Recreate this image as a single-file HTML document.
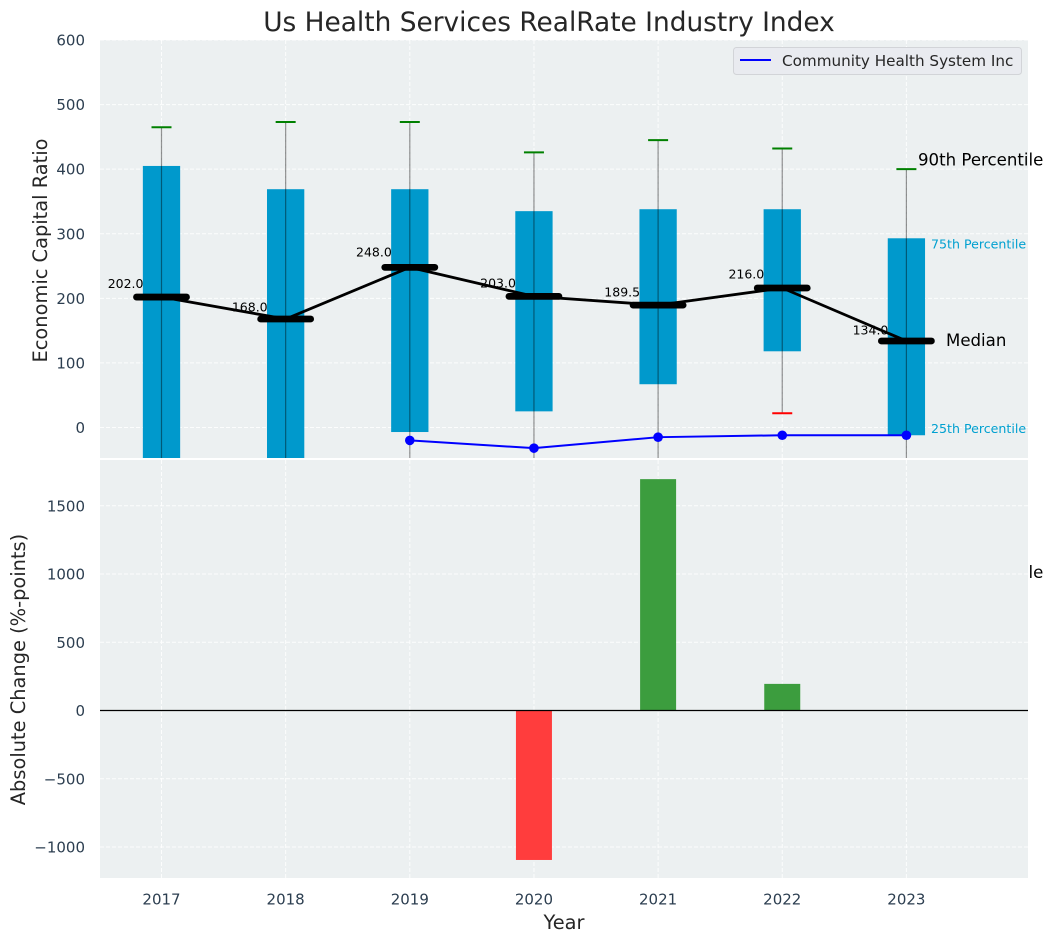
<!DOCTYPE html>
<html lang="en">
<head>
<meta charset="utf-8">
<title>Us Health Services RealRate Industry Index</title>
<style>
html,body{margin:0;padding:0;background:#fff;width:1053px;height:942px;overflow:hidden}
svg{display:block;font-family:"DejaVu Sans","Liberation Sans",sans-serif}
</style>
</head>
<body>
<svg id="chart" width="1053" height="942" viewBox="0 0 1053 942" xmlns="http://www.w3.org/2000/svg">
  <defs>
    <clipPath id="top-clip"><rect x="100" y="40" width="928" height="418"/></clipPath>
    <clipPath id="bottom-clip"><rect x="100" y="460" width="928" height="418"/></clipPath>
  </defs>
  <rect x="100" y="40" width="928" height="418" fill="#ecf0f1"/>
  <g id="top-grid"></g>
  <g id="top-marks" clip-path="url(#top-clip)"></g>
  <g id="median-labels"></g>
  <g id="median-marks" clip-path="url(#top-clip)"></g>
  <text x="918" y="165.5" font-size="16.6" fill="#000">90th Percentile</text>
  <text x="931" y="248.5" font-size="12.6" fill="#00a0d0">75th Percentile</text>
  <text x="946" y="346" font-size="16.6" fill="#000">Median</text>
  <text x="931" y="433" font-size="12.6" fill="#00a0d0">25th Percentile</text>
  <text x="918" y="578" font-size="16.6" fill="#000">10th Percentile</text>

  <g>
    <rect x="733.5" y="47.5" width="288" height="27" rx="3" fill="#e9ebf0" stroke="#d2d4d8" stroke-width="1"/>
    <line x1="740" y1="60" x2="771" y2="60" stroke="#0000ff" stroke-width="2"/>
    <text x="782" y="66" font-size="15.2" fill="#262626">Community Health System Inc</text>
  </g>

  <rect x="100" y="460" width="928" height="418" fill="#ecf0f1"/>
  <g id="bottom-grid"></g>
  <g id="bottom-marks" clip-path="url(#bottom-clip)"></g>
  <g id="tick-labels" fill="#2c3e50" font-size="15"></g>

  <text x="549" y="31" text-anchor="middle" font-size="26.4" fill="#262626">Us Health Services RealRate Industry Index</text>
  <text transform="translate(47,250.5) rotate(-90)" text-anchor="middle" font-size="19.4" fill="#262626">Economic Capital Ratio</text>
  <text transform="translate(25,669.5) rotate(-90)" text-anchor="middle" font-size="19.4" fill="#262626">Absolute Change (%-points)</text>
  <text x="564" y="929" text-anchor="middle" font-size="19.4" fill="#262626">Year</text>
</svg>
<script>
const years = [2017, 2018, 2019, 2020, 2021, 2022, 2023];
const p90 = [465, 473, 473, 426, 445, 432, 400];
const p75 = [405, 369, 369, 335, 338, 338, 293];
const medians = [202, 168, 248, 203, 189.5, 216, 134];
const p25 = [-150, -120, -7, 25, 67, 118, -12];
const p10 = [-250, -220, -150, -120, -100, 22, -100];
const company = [null, null, -20, -32, -15, -12, -12];
const absChange = [null, null, null, -1095, 1695, 195, null];
const topTicks = [0, 100, 200, 300, 400, 500, 600];
const bottomTicks = [-1000, -500, 0, 500, 1000, 1500];

const SVG_NS = 'http://www.w3.org/2000/svg';
const xScale = v => 161.5 + (v - 2017) * 124.15;
const yTop = v => 427.5 - v * 0.6458;
const yBottom = v => 710.5 - v * 0.1365;
const BOX_W = 37.3, BAR_W = 36, CAP = 10, MED = 25;

function node(parent, tag, attrs) {
  const el = document.createElementNS(SVG_NS, tag);
  for (const k in attrs) el.setAttribute(k, attrs[k]);
  parent.appendChild(el);
  return el;
}
const topGrid = document.getElementById('top-grid');
const bottomGrid = document.getElementById('bottom-grid');
const topMarks = document.getElementById('top-marks');
const bottomMarks = document.getElementById('bottom-marks');
const medianMarks = document.getElementById('median-marks');
const medianLabels = document.getElementById('median-labels');
const tickLabels = document.getElementById('tick-labels');
const gridStyle = {stroke: '#ffffff', 'stroke-width': 1, 'stroke-dasharray': '4 2', 'stroke-opacity': 0.85};
const fmtTick = v => String(v).replace('-', '\u2212');

topTicks.forEach(t => {
  const y = yTop(t);
  const g = node(topGrid, 'line', {x1: 100, x2: 1028, y1: y, y2: y, ...gridStyle});
  
  
  const l = node(tickLabels, 'text', {x: 85, y: y + 5.5, 'text-anchor': 'end'});
  
  
  l.textContent = fmtTick(t);
});
bottomTicks.forEach(t => {
  const y = yBottom(t);
  const g = node(bottomGrid, 'line', {x1: 100, x2: 1028, y1: y, y2: y, ...gridStyle});
  
  
  const l = node(tickLabels, 'text', {x: 85, y: y + 5.5, 'text-anchor': 'end'});
  
  
  l.textContent = fmtTick(t);
});
years.forEach(yr => {
  const x = xScale(yr);
  const g1 = node(topGrid, 'line', {x1: x, x2: x, y1: 40, y2: 458, ...gridStyle});
  
  
  const g2 = node(bottomGrid, 'line', {x1: x, x2: x, y1: 460, y2: 878, ...gridStyle});
  
  
  const l = node(tickLabels, 'text', {x: x, y: 904.5, 'text-anchor': 'middle'});
  
  
  l.textContent = yr;
});

years.forEach((yr, i) => {
  const x = xScale(yr);
  const box = node(topMarks, 'rect', {
    x: x - BOX_W / 2, y: yTop(p75[i]), width: BOX_W,
    height: yTop(p25[i]) - yTop(p75[i]), fill: '#0099cc'
  });
  
  
  const wh = node(topMarks, 'line', {
    x1: x, x2: x, y1: yTop(p90[i]), y2: yTop(p10[i]),
    stroke: '#000', 'stroke-opacity': 0.42, 'stroke-width': 1.2
  });
  
  
  const capHi = node(topMarks, 'line', {
    x1: x - CAP, x2: x + CAP, y1: yTop(p90[i]), y2: yTop(p90[i]),
    stroke: '#008000', 'stroke-width': 2
  });
  
  
  const capLo = node(topMarks, 'line', {
    x1: x - CAP, x2: x + CAP, y1: yTop(p10[i]), y2: yTop(p10[i]),
    stroke: '#ff0000', 'stroke-width': 2
  });
  
  

  const lab = node(medianLabels, 'text', {
    x: x - 18, y: yTop(medians[i] * 1.06) - 1.2, 'text-anchor': 'end', 'font-size': 12.5, fill: '#000'
  });
  
  
  lab.textContent = medians[i].toFixed(1);
});

const companyPts = years.map((yr, i) => company[i] === null ? null : xScale(yr) + ',' + yTop(company[i])).filter(Boolean).join(' ');
const companyLine = node(topMarks, 'polyline', {points: companyPts, fill: 'none', stroke: '#0000ff', 'stroke-width': 2});


years.forEach((yr, i) => {
  if (company[i] === null) return;
  const dot = node(topMarks, 'circle', {cx: xScale(yr), cy: yTop(company[i]), r: 4.8, fill: '#0000ff'});
  
  
});

const medianPts = years.map((yr, i) => xScale(yr) + ',' + yTop(medians[i])).join(' ');
const medianLine = node(medianMarks, 'polyline', {points: medianPts, fill: 'none', stroke: '#000', 'stroke-width': 2.8});


years.forEach((yr, i) => {
  const x = xScale(yr), y = yTop(medians[i]);
  const m = node(medianMarks, 'line', {
    x1: x - MED, x2: x + MED, y1: y, y2: y,
    stroke: '#000', 'stroke-width': 6.8, 'stroke-linecap': 'round'
  });
  
  
});

years.forEach((yr, i) => {
  const v = absChange[i];
  if (v === null) return;
  const top = Math.min(yBottom(v), yBottom(0));
  const bar = node(bottomMarks, 'rect', {
    x: xScale(yr) - BAR_W / 2, y: top, width: BAR_W,
    height: Math.abs(yBottom(v) - yBottom(0)), fill: v >= 0 ? '#3c9d3e' : '#ff3d3d'
  });
  
  
});
const zero = node(bottomMarks, 'line', {x1: 100, x2: 1028, y1: yBottom(0), y2: yBottom(0), stroke: '#000', 'stroke-width': 1.2});


</script>
</body>
</html>
